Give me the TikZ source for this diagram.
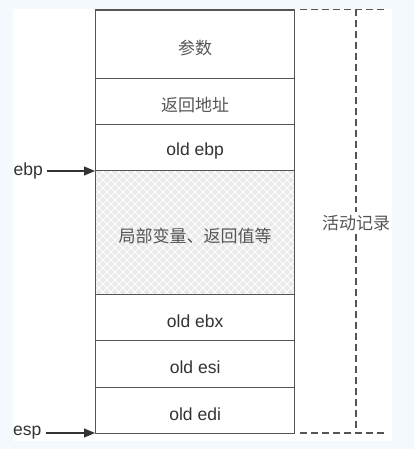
\documentclass[tikz,border=0pt]{standalone}
\usepackage{fontspec}
\usetikzlibrary{arrows.meta}
\setmainfont{Liberation Sans}
\newfontfamily\cjk{Noto Sans CJK SC}
\newcommand{\lowtxt}[1]{\raisebox{-3.3pt}[\height][\depth]{#1}}
\newcommand{\cjktxt}[1]{\raisebox{-3.5pt}[\height][\depth]{\cjk\color{cjkgray}\fontsize{17}{20}\selectfont #1}}
\begin{document}
\begin{tikzpicture}[x=1pt,y=-1pt,
  cell/.style={draw=linegray, line width=1.3pt, minimum width=199pt, inner sep=0pt, anchor=north west, font=\fontsize{17.5}{20}\selectfont, text=textgray},
  lbl/.style={font=\fontsize{17.5}{20}\selectfont, text=textgray, inner sep=0pt},
  cjklbl/.style={font=\cjk\fontsize{17}{20}\selectfont, text=cjkgray},
  dsh/.style={draw=dashgray, line width=1.3pt, dash pattern=on 7pt off 4pt},
  arr/.style={draw=arrgray, line width=1.2pt, shorten <=4pt, -{Triangle[length=11pt,width=9pt]}}
]
\definecolor{linegray}{HTML}{555555}
\definecolor{textgray}{HTML}{333333}
\definecolor{cjkgray}{HTML}{555555}
\definecolor{dashgray}{HTML}{555555}
\definecolor{arrgray}{HTML}{333333}
\definecolor{outerbg}{HTML}{F4F9FD}
\definecolor{hatchbg}{HTML}{E9E9E9}
\useasboundingbox (0,0) rectangle (414,449);
\fill[outerbg] (0,0) rectangle (414,449);
\fill[white] (13,9) rectangle (392,441);
% hatched region
\begin{scope}
\clip (95,170) rectangle (294,294);
\fill[hatchbg] (95,170) rectangle (294,294);
\foreach \k in {-130,-122,...,300}{
  \draw[white, line width=1pt] (95+\k,170) -- (95+\k+124,294);
  \draw[white, line width=1pt] (95+\k,294) -- (95+\k+124,170);
}
\end{scope}
\node[cell, minimum height=68.7pt] (args) at (95,9.3) {\cjktxt{参数}};
\node[cell, minimum height=46pt] (ret) at (95,78) {\cjktxt{返回地址}};
\node[cell, minimum height=46pt] (oebp) at (95,124) {\lowtxt{old ebp}};
\node[cell, minimum height=124pt] (loc) at (95,170) {\cjktxt{局部变量、返回值等}};
\node[cell, minimum height=46pt] (oebx) at (95,294) {\lowtxt{old ebx}};
\node[cell, minimum height=47pt] (oesi) at (95,340) {\lowtxt{old esi}};
\node[cell, minimum height=46pt] (oedi) at (95,387) {\lowtxt{old edi}};
\node[lbl, anchor=west] (ebp) at (13.5,171) {ebp};
\node[lbl, anchor=west] (esp) at (13,433) {esp};
\draw[arr] (ebp.east) -- (ebp.east -| loc.west);
\draw[arr] (esp.east) -- (esp.east -| oedi.west);
\node[cjklbl] (act) at (356,223) {活动记录};
\coordinate (tl) at (300,9.3);
\coordinate (tr) at (386,9.3);
\coordinate (tv) at (356,9.3);
\coordinate (bl) at (300,433);
\coordinate (br) at (386,433);
\coordinate (bv) at (356,433);
\draw[dsh] (tl) -- (tr);
\draw[dsh] (bl) -- (br);
\draw[dsh] (tv) -- (act.north);
\draw[dsh] (act.south) -- (bv);
\end{tikzpicture}
\end{document}
